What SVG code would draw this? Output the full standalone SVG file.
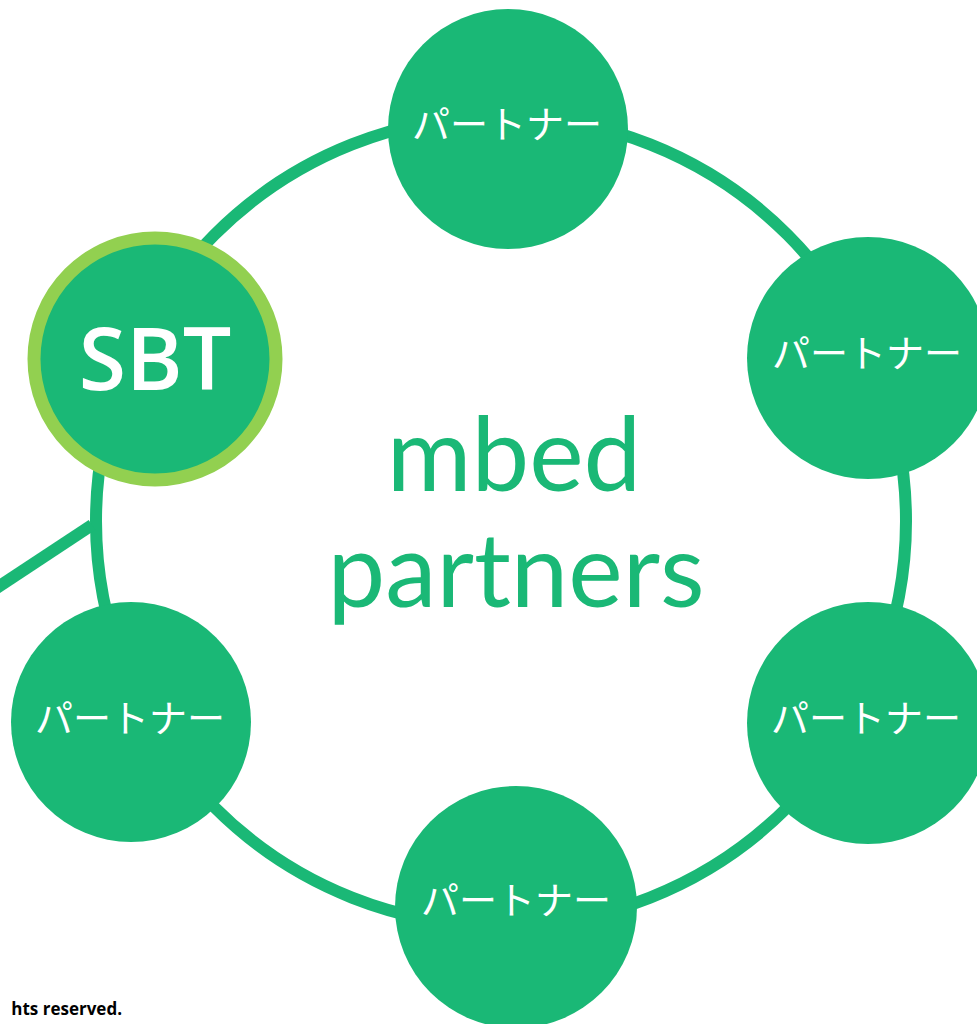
<svg xmlns="http://www.w3.org/2000/svg" width="977" height="1024" viewBox="0 0 977 1024">
<style>
.node{fill:#1ab876}
.lbl{fill:#fff;font-family:"Noto Sans CJK JP","Noto Sans",sans-serif;font-size:38px;text-anchor:middle}
.conn{fill:none;stroke:#1ab876;stroke-width:12}
.big{font-family:Lato,"Open Sans",sans-serif;font-size:103px;fill:#1ab876;text-anchor:middle}
</style>
<rect width="977" height="1024" fill="#fff"/>
<g id="connectors">
<circle class="conn" cx="501" cy="521" r="405"/>
<line class="conn" x1="-5" y1="589" x2="92" y2="525"/>
</g>
<g id="center-label">
<text class="big" x="514" y="491">mbed</text>
<text class="big" x="516" y="607">partners</text>
</g>
<g id="node-top"><circle class="node" cx="508" cy="129" r="120"/><text class="lbl" x="507" y="138">パートナー</text></g>
<g id="node-right-top"><circle class="node" cx="868" cy="358" r="121"/><text class="lbl" x="867" y="367">パートナー</text></g>
<g id="node-right-bottom"><circle class="node" cx="868" cy="723" r="121"/><text class="lbl" x="866" y="732">パートナー</text></g>
<g id="node-bottom"><circle class="node" cx="516" cy="907" r="121"/><text class="lbl" x="516" y="914">パートナー</text></g>
<g id="node-left-bottom"><circle class="node" cx="131" cy="722" r="120"/><text class="lbl" x="130" y="732">パートナー</text></g>
<g id="node-sbt"><circle cx="155" cy="359" r="121" fill="#1ab876" stroke="#92d050" stroke-width="13"/><text x="155" y="390" text-anchor="middle" font-family="Open Sans, sans-serif" font-weight="600" font-size="86" fill="#fff">SBT</text></g>
<text x="122" y="1015" text-anchor="end" font-family="Open Sans, sans-serif" font-weight="700" font-size="17" fill="#000">hts reserved.</text>
</svg>
